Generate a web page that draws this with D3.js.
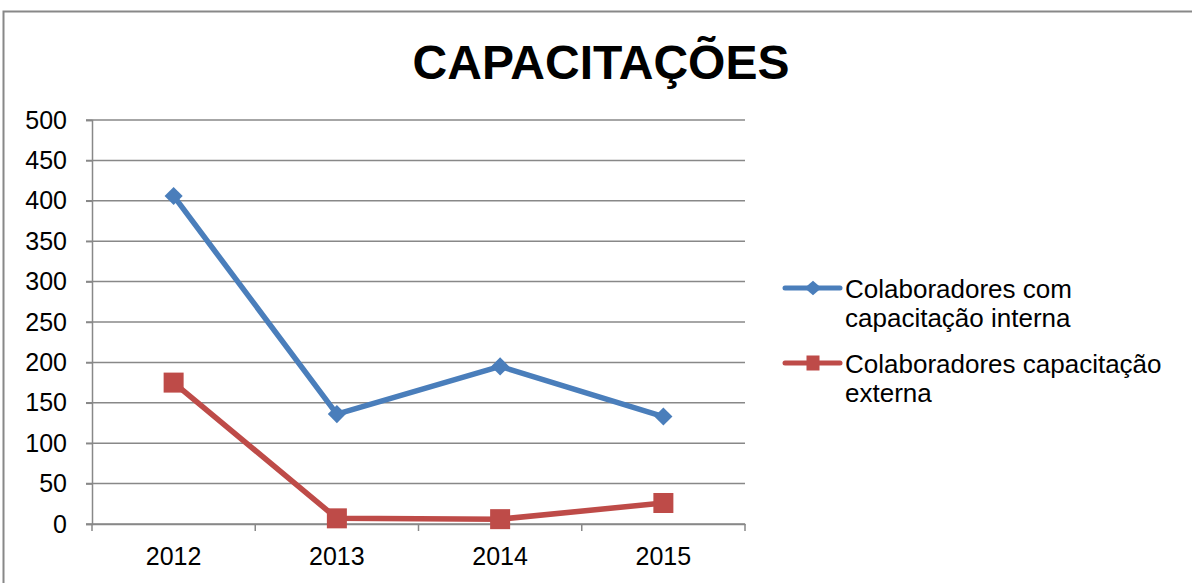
<!DOCTYPE html>
<html>
<head>
<meta charset="utf-8">
<script src="https://cdn.jsdelivr.net/npm/d3@7"></script>
<style>
body { margin: 0; background: #fff; }
text { font-family: "Liberation Sans", Arial, sans-serif; }
</style>
</head>
<body>
<div id="my_dataviz"></div>
<script>
// data
var years = ["2012", "2013", "2014", "2015"];
var interna = [406, 136, 195, 133];
var externa = [175, 7, 6, 26];
var yTicks = [0, 50, 100, 150, 200, 250, 300, 350, 400, 450, 500];
var seriesNames = [
  ["Colaboradores com", "capacitação interna"],
  ["Colaboradores capacitação", "externa"]
];
var colors = ["#4A7EBB", "#BE4B48"];

var W = 1192, H = 583;
var margin = {top: 120, left: 92, right: 447, bottom: 59};
var width = W - margin.left - margin.right,
    height = H - margin.top - margin.bottom;

var root = d3.select("#my_dataviz")
  .append("svg")
  .attr("width", W)
  .attr("height", H);

// outer frame
root.append("rect")
  .attr("x", 3.5).attr("y", 11.5)
  .attr("width", W + 10).attr("height", H)
  .attr("fill", "none")
  .attr("stroke", "#888")
  .attr("stroke-width", 2);

// title
root.append("text")
  .attr("x", 601).attr("y", 79)
  .attr("text-anchor", "middle")
  .style("font-size", "48px")
  .style("font-weight", "bold")
  .text("CAPACITAÇÕES");

var svg = root.append("g")
  .attr("transform", "translate(" + margin.left + "," + margin.top + ")");

var x = d3.scaleBand()
  .domain(years)
  .range([0, width]);

var y = d3.scaleLinear()
  .domain([0, 500])
  .range([height, 0]);

// gridlines
svg.append("g")
  .selectAll("line")
  .data(yTicks)
  .enter()
  .append("line")
    .attr("x1", -6)
    .attr("x2", width)
    .attr("y1", function(d) { return y(d); })
    .attr("y2", function(d) { return y(d); })
    .attr("stroke", "#888")
    .attr("stroke-width", 1.5);

// Y axis
var yAxis = svg.append("g")
  .call(d3.axisLeft(y).tickValues(yTicks).tickSize(6).tickPadding(19));
yAxis.select(".domain").attr("stroke", "#888").attr("stroke-width", 1.5);
yAxis.selectAll(".tick line").attr("stroke", "#888").attr("stroke-width", 1.5);
yAxis.selectAll("text").style("font-size", "25px").attr("fill", "#000")
  .style("font-family", "'Liberation Sans', Arial, sans-serif");

// X axis
var xAxis = svg.append("g")
  .attr("transform", "translate(0," + height + ")")
  .call(d3.axisBottom(x).tickSize(0).tickPadding(23));
xAxis.select(".domain").attr("stroke", "#888").attr("stroke-width", 1.5);
xAxis.selectAll("text").style("font-size", "25px").attr("fill", "#000")
  .style("font-family", "'Liberation Sans', Arial, sans-serif");
// tick marks between categories
svg.append("g")
  .selectAll("line")
  .data(years.concat(["end"]))
  .enter()
  .append("line")
    .attr("x1", function(d, i) { return i * x.step(); })
    .attr("x2", function(d, i) { return i * x.step(); })
    .attr("y1", height)
    .attr("y2", height + 7)
    .attr("stroke", "#888")
    .attr("stroke-width", 1.5);

var cx = function(d, i) { return x(years[i]) + x.bandwidth() / 2; };

var line = d3.line()
  .x(function(d, i) { return cx(d, i); })
  .y(function(d) { return y(d); });

// blue series
svg.append("path")
  .datum(interna)
  .attr("fill", "none")
  .attr("stroke", colors[0])
  .attr("stroke-width", 5.5)
  .attr("stroke-linejoin", "round")
  .attr("d", line);

svg.append("g")
  .selectAll("path")
  .data(interna)
  .enter()
  .append("path")
    .attr("d", d3.symbol().type(d3.symbolDiamond2).size(210))
    .attr("transform", function(d, i) { return "translate(" + cx(d, i) + "," + y(d) + ")"; })
    .attr("fill", colors[0]);

// red series
svg.append("path")
  .datum(externa)
  .attr("fill", "none")
  .attr("stroke", colors[1])
  .attr("stroke-width", 5.5)
  .attr("stroke-linejoin", "round")
  .attr("d", line);

svg.append("g")
  .selectAll("rect")
  .data(externa)
  .enter()
  .append("rect")
    .attr("x", function(d, i) { return cx(d, i) - 10; })
    .attr("y", function(d) { return y(d) - 10; })
    .attr("width", 20)
    .attr("height", 20)
    .attr("fill", colors[1]);

// legend
var legend = root.append("g")
  .attr("transform", "translate(785,0)");
var legY = [288, 363];

legY.forEach(function(ly, k) {
  legend.append("line")
    .attr("x1", 0).attr("x2", 55)
    .attr("y1", ly).attr("y2", ly)
    .attr("stroke", colors[k])
    .attr("stroke-width", 5)
    .attr("stroke-linecap", "round");
  if (k === 0) {
    legend.append("path")
      .attr("d", d3.symbol().type(d3.symbolDiamond2).size(150))
      .attr("transform", "translate(28," + ly + ") scale(1.1,0.95)")
      .attr("fill", colors[k]);
  } else {
    legend.append("rect")
      .attr("x", 21.5).attr("y", ly - 7.5)
      .attr("width", 13).attr("height", 15)
      .attr("fill", colors[k]);
  }
  var t = legend.append("text")
    .attr("x", 60).attr("y", ly + 10)
    .style("font-size", "26px");
  seriesNames[k].forEach(function(s, j) {
    t.append("tspan").attr("x", 60).attr("dy", j === 0 ? 0 : 29).text(s);
  });
});
</script>
</body>
</html>
